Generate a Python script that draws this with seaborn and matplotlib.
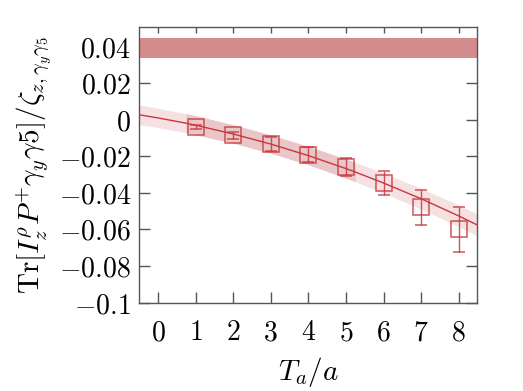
import numpy as np
import pandas as pd
import matplotlib
matplotlib.use("Agg")
import matplotlib.pyplot as plt
import seaborn as sns

# data
ta = [1, 2, 3, 4, 5, 6, 7, 8]
ratio = [-0.0040, -0.0086, -0.0133, -0.0191, -0.0258, -0.0345, -0.0478, -0.0600]
ratio_err = [0.0010, 0.0020, 0.0036, 0.0041, 0.0050, 0.0067, 0.0095, 0.0122]

# fitted curve and its error band, sampled along T_a/a
fit_x = [-0.5, 0.0, 0.75, 1.0, 2.0, 3.0, 4.0, 5.0, 5.25, 6.0, 7.0, 8.0, 8.5]
fit_y = [0.0027, 0.0010, -0.0019, -0.0030, -0.0078, -0.0133, -0.0196, -0.0267,
         -0.0286, -0.0346, -0.0432, -0.0526, -0.0576]
fit_err = [0.0054, 0.0053, 0.0052, 0.0052, 0.0050, 0.0050, 0.0050, 0.0052,
           0.0053, 0.0055, 0.0057, 0.0059, 0.0060]
fit_lo, fit_hi = 0.75, 5.25

# horizontal band at the top
band_lo, band_hi = 0.034, 0.0445

red = "#c8373d"

sns.set_theme(style="ticks")
plt.rcParams["mathtext.fontset"] = "cm"
plt.rcParams["font.family"] = ["DejaVu Serif"]
plt.rcParams["text.color"] = "black"
plt.rcParams["axes.labelcolor"] = "black"

fig = plt.figure(figsize=(5.23, 3.91), dpi=100)
ax = fig.add_axes([0.266, 0.226, 0.647, 0.705])

ax.axhspan(band_lo, band_hi, color="#d48b8b", lw=0, zorder=1)

fx = np.array(fit_x)
fy = np.array(fit_y)
fe = np.array(fit_err)
ax.fill_between(fx, fy - fe, fy + fe, color="#f6e1e2", lw=0, zorder=1)
inside = (fx >= fit_lo) & (fx <= fit_hi)
ax.fill_between(fx[inside], (fy - fe)[inside], (fy + fe)[inside],
                color="#e9c6c8", lw=0, zorder=2)

df_fit = pd.DataFrame({"x": fit_x, "y": fit_y})
sns.lineplot(data=df_fit, x="x", y="y", color=red, lw=1.0, ax=ax, zorder=3)

ax.errorbar(ta, ratio, yerr=ratio_err, fmt="s", ms=11, mfc="none", mec=red,
            mew=1.1, ecolor=red, elinewidth=1.0, capsize=4, capthick=1.0,
            alpha=0.85, zorder=4)

ax.set_xlim(-0.5, 8.5)
ax.set_ylim(-0.1, 0.0507)
ax.set_xticks(range(0, 9))
ax.set_yticks([-0.1, -0.08, -0.06, -0.04, -0.02, 0, 0.02, 0.04])


def fmt(v, pos):
    return "$%g$" % round(v, 4)


ax.xaxis.set_major_formatter(plt.FuncFormatter(lambda v, p: "$%d$" % v))
ax.yaxis.set_major_formatter(plt.FuncFormatter(fmt))

for sp in ax.spines.values():
    sp.set_color("#555555")
    sp.set_linewidth(1.0)
ax.tick_params(axis="both", direction="in", length=8, width=1.0,
               color="#555555", labelcolor="black", labelsize=20, right=True)
ax.tick_params(axis="x", pad=12)
ax.tick_params(axis="y", pad=6)
top = ax.secondary_xaxis("top")
top.set_xticks(range(0, 9))
top.tick_params(direction="in", length=4, width=1.0, color="#555555",
                labeltop=False)
top.spines["top"].set_visible(False)

ax.set_xlabel(r"$T_a/a$", fontsize=21, labelpad=6)
ax.set_ylabel(r"$\mathrm{Tr}[I_z^{\rho}P^{+}\gamma_y\gamma 5]/\zeta_{z,\gamma_y\gamma_5}$",
              fontsize=21, labelpad=3)

fig.savefig("out.png", dpi=100)
